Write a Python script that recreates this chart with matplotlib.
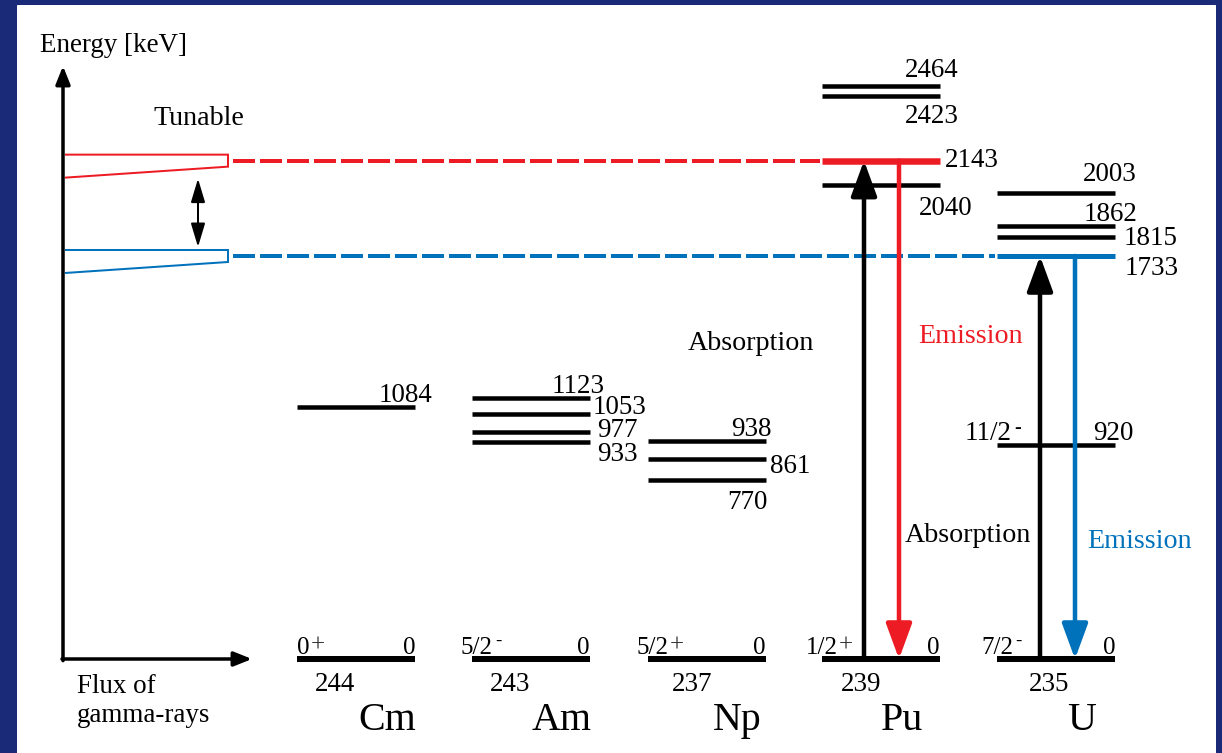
import matplotlib
matplotlib.use("Agg")
import matplotlib.pyplot as plt
from matplotlib.patches import Rectangle, Polygon, ArrowStyle

plt.rcParams['font.family'] = ['Liberation Serif', 'DejaVu Serif']

# data
elements = ["Cm", "Am", "Np", "Pu", "U"]
mass_numbers = ["244", "243", "237", "239", "235"]
ground_spins = [("0", "+"), ("5/2", "-"), ("5/2", "+"), ("1/2", "+"), ("7/2", "-")]
cm_levels = [1084]
am_levels = [1123, 1053, 977, 933]
np_levels = [938, 861, 770]
pu_levels = [2464, 2423, 2143, 2040]
u_levels = [2003, 1862, 1815, 1733, 920]
tuned_high = 2143   # Pu-239 line (red)
tuned_low = 1733    # U-235 line (blue)

RED = '#ed1c24'
BLUE = '#0072bc'
NAVY = '#1b2a78'

W, H = 1222, 753
DPI = 72
PX_PER_KEV = 0.23255
GROUND_PX = 659


def e_of_px(y):
    # picture row -> energy, only for the schematic decorations
    return (GROUND_PX - y) / PX_PER_KEV


fig = plt.figure(figsize=(W / DPI, H / DPI), dpi=DPI, facecolor=NAVY)
fig.add_artist(Rectangle((17 / W, 0), (1215 - 17) / W, (H - 5) / H,
                         transform=fig.transFigure, color='white', zorder=0))
ax = fig.add_axes([0, 0, 1, 1])
ax.set_facecolor('none')
ax.set_xlim(0, W)
ax.set_ylim(e_of_px(H), e_of_px(0))
ax.axis('off')

col_left = [297, 472, 648, 822, 997]
col_w = 118
all_levels = [cm_levels, am_levels, np_levels, pu_levels, u_levels]

# label offsets (dx from right end, dy from line, ha)
label_pos = [
    [(17, 5, 'right')],
    [(15, 5, 'right'), (3, 0, 'left'), (7, -5, 'left'), (7, -19, 'left')],
    [(6, 5, 'right'), (4, -14, 'left'), (2, -29, 'right')],
    [(19, 9, 'right'), (19, -27, 'right'), (5, -6, 'left'), (32, -30, 'right')],
    [(22, 12, 'right'), (22, 5, 'right'), (9, -8, 'left'), (10, -19, 'left'), (18, 5, 'right')],
]
spin_dx = [0, -11, -11, -16, -16]
mass_dx = [38, 38, 44, 39, 52]
name_dx = [-28, -28, -29, -38, -33]

FS = 27


def spin_label(base, sign, xy, dx, dy, fs):
    t = ax.annotate(base, xy=xy, xytext=(dx, dy), textcoords='offset points',
                    ha='left', va='baseline', fontsize=fs)
    if sign == "+":
        ax.annotate("+", xy=(1, 0), xycoords=t, xytext=(1, 7), textcoords='offset points',
                    ha='left', va='baseline', fontsize=fs, color='#333333')
    else:
        ax.annotate("-", xy=(1, 0), xycoords=t, xytext=(2, 13), textcoords='offset points',
                    ha='left', va='baseline', fontsize=fs * 0.75)


for i, el in enumerate(elements):
    x0 = col_left[i]
    x1 = x0 + col_w
    # ground state
    ax.hlines(0, x0, x1, color='black', lw=6, zorder=3)
    spin_label(ground_spins[i][0], ground_spins[i][1], (x0, 0), spin_dx[i], 5, 25)
    ax.annotate("0", xy=(x1, 0), xytext=(0, 5), textcoords='offset points',
                ha='right', va='baseline', fontsize=25)
    ax.annotate(mass_numbers[i], xy=(x0, 0), xytext=(mass_dx[i], -32),
                textcoords='offset points', ha='center', va='baseline', fontsize=FS)
    ax.annotate(el, xy=(x1, 0), xytext=(name_dx[i], -71),
                textcoords='offset points', ha='center', va='baseline', fontsize=40)
    for E, (dx, dy, ha) in zip(all_levels[i], label_pos[i]):
        if el == "Pu" and E == tuned_high:
            c, lw = RED, 6.5
        elif el == "U" and E == tuned_low:
            c, lw = BLUE, 5
        else:
            c, lw = 'black', 4.5
        ax.hlines(E, x0, x1, color=c, lw=lw, zorder=3)
        ax.annotate(str(E), xy=(x1, E), xytext=(dx, dy), textcoords='offset points',
                    ha=ha, va='baseline', fontsize=FS)

spin_label("11/2", "-", (col_left[4], 920), -32, 5, FS)

# energy / flux axes
axis_style = dict(arrowstyle=ArrowStyle('-|>', head_length=15, head_width=6),
                  mutation_scale=1, lw=3.5, color='black', shrinkA=0, shrinkB=0)
ax.annotate('', xy=(63, e_of_px(66)), xytext=(63, -7), arrowprops=axis_style)
ax.annotate('', xy=(252, 0), xytext=(62, 0), arrowprops=axis_style)

# tunable wedges and dashed guide lines
for E, c, x_end in [(tuned_high, RED, 820), (tuned_low, BLUE, 995)]:
    d = 1 / PX_PER_KEV
    wedge = Polygon([(65, E + 6 * d), (228, E + 6 * d), (228, E - 6 * d), (65, E - 17 * d)],
                    closed=False, fill=False, edgecolor=c, lw=2, zorder=2)
    ax.add_patch(wedge)
    ax.plot([233, x_end], [E, E], color=c, lw=4, dashes=(5.5, 1.25), zorder=2)

ax.annotate('', xy=(198, tuned_low + 9 / PX_PER_KEV), xytext=(198, tuned_high - 18 / PX_PER_KEV),
            arrowprops=dict(arrowstyle=ArrowStyle('<|-|>', head_length=20, head_width=6),
                            mutation_scale=1, lw=2, color='black', shrinkA=0, shrinkB=0))


# transitions
def transition(x, e_from, e_to, color):
    ax.annotate('', xy=(x, e_to), xytext=(x, e_from),
                arrowprops=dict(arrowstyle=ArrowStyle('-|>', head_length=30, head_width=11),
                                mutation_scale=1, lw=4.5, color=color,
                                shrinkA=0, shrinkB=0), zorder=4)


transition(col_left[3] + 42, 0, tuned_high, 'black')
transition(col_left[3] + 77, tuned_high, 0, RED)
transition(col_left[4] + 43, 0, tuned_low, 'black')
transition(col_left[4] + 78, tuned_low, 0, BLUE)


# free text
def ftext(x, y, s, **kw):
    fig.text(x / W, 1 - y / H, s, ha='left', va='baseline', **kw)


ftext(40, 52, "Energy [keV]", fontsize=FS)
ftext(153, 125, "Tunable", fontsize=28)
ftext(688, 350, "Absorption", fontsize=28)
ftext(918, 343, "Emission", fontsize=28, color=RED)
ftext(905, 542, "Absorption", fontsize=28)
ftext(1087, 548, "Emission", fontsize=28, color=BLUE)
ftext(77, 693, "Flux of", fontsize=FS)
ftext(77, 722, "gamma-rays", fontsize=FS)

fig.savefig("out.png", dpi=DPI, facecolor=NAVY)
